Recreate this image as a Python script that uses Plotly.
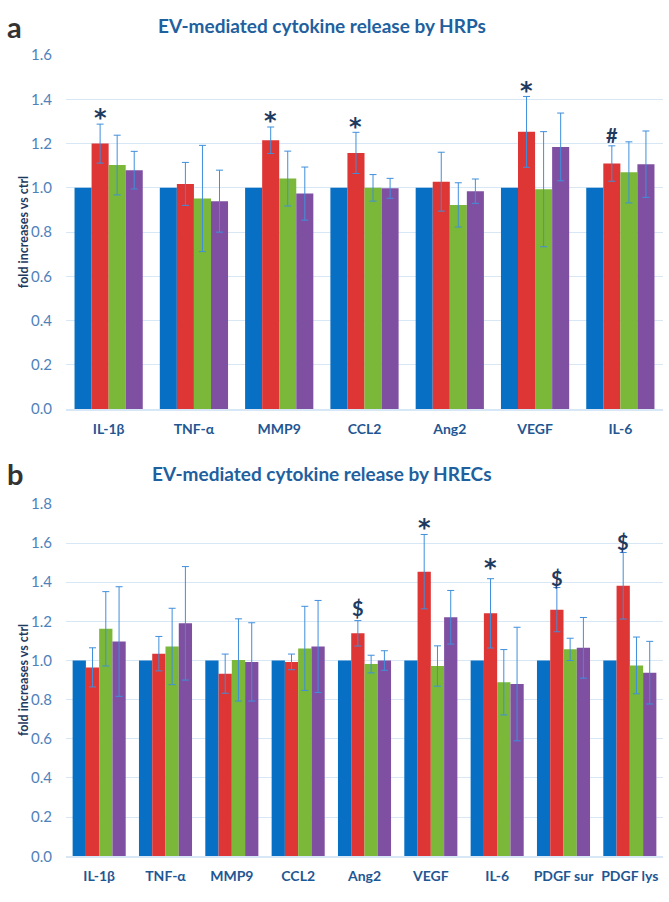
import plotly.graph_objects as go

# ---------------- data ----------------
cats_a = ["IL-1β", "TNF-α", "MMP9", "CCL2", "Ang2", "VEGF", "IL-6"]
ctrl_a = [1.0, 1.0, 1.0, 1.0, 1.0, 1.0, 1.0]
red_a = [1.20, 1.018, 1.215, 1.158, 1.028, 1.253, 1.110]
red_err_a = [0.088, 0.097, 0.060, 0.093, 0.133, 0.160, 0.080]
green_a = [1.103, 0.952, 1.042, 1.000, 0.923, 0.994, 1.070]
green_err_a = [0.135, 0.240, 0.124, 0.060, 0.100, 0.260, 0.138]
purple_a = [1.080, 0.940, 0.974, 0.998, 0.985, 1.185, 1.107]
purple_err_a = [0.085, 0.140, 0.120, 0.045, 0.055, 0.153, 0.150]
sig_cats_a = ["IL-1β", "MMP9", "CCL2", "VEGF", "IL-6"]
sig_syms_a = ["*", "*", "*", "*", "#"]
sig_y_a = [1.345, 1.330, 1.300, 1.465, 1.240]

cats_b = ["IL-1β", "TNF-α", "MMP9", "CCL2", "Ang2", "VEGF", "IL-6", "PDGF sur", "PDGF lys"]
ctrl_b = [1.0] * 9
red_b = [0.965, 1.035, 0.933, 0.993, 1.139, 1.454, 1.241, 1.260, 1.382]
red_err_b = [0.100, 0.088, 0.100, 0.040, 0.065, 0.190, 0.177, 0.113, 0.170]
green_b = [1.162, 1.072, 1.003, 1.062, 0.982, 0.972, 0.889, 1.057, 0.975]
green_err_b = [0.190, 0.195, 0.210, 0.215, 0.045, 0.103, 0.167, 0.057, 0.145]
purple_b = [1.097, 1.190, 0.993, 1.072, 1.000, 1.221, 0.880, 1.065, 0.938]
purple_err_b = [0.280, 0.290, 0.200, 0.235, 0.050, 0.137, 0.290, 0.155, 0.160]
sig_cats_b = ["Ang2", "VEGF", "IL-6", "PDGF sur", "PDGF lys"]
sig_syms_b = ["$", "*", "*", "$", "$"]
sig_y_b = [1.270, 1.710, 1.504, 1.424, 1.605]

titles = ["EV-mediated cytokine release by HRPs", "EV-mediated cytokine release by HRECs"]
panel_letters = ["a", "b"]
ytitle = "fold increases vs ctrl"

# ---------------- style ----------------
FONT = "Lato"
C_BLUE = "#0870c4"
C_RED = "#de3535"
C_GREEN = "#7bb739"
C_PURPLE = "#7f50a2"
C_ERR = "#3f8fdc"
C_TICK = "#4f82bb"
C_XLAB = "#1f5793"
C_TITLE = "#21609e"
C_DARK = "#1e3a5f"
C_GRID = "#d8e7f5"

W, H = 669, 902
fig = go.Figure()


def px_y(p):
    return 1 - p / H


panels = [
    dict(cats=cats_a, ctrl=ctrl_a, red=red_a, red_e=red_err_a, green=green_a, green_e=green_err_a,
         purple=purple_a, purple_e=purple_err_a, sc=sig_cats_a, ss=sig_syms_a, sy=sig_y_a,
         xa="x", ya="y", top=46.0, bot=407.3, yr=[0, 1.6], title_y=16, letter_y=17),
    dict(cats=cats_b, ctrl=ctrl_b, red=red_b, red_e=red_err_b, green=green_b, green_e=green_err_b,
         purple=purple_b, purple_e=purple_err_b, sc=sig_cats_b, ss=sig_syms_b, sy=sig_y_b,
         xa="x2", ya="y2", top=504.0, bot=863.5, yr=[0, 1.8], title_y=473, letter_y=473),
]

annotations = []
for i, p in enumerate(panels):
    def err(vals):
        return dict(type="data", array=vals, visible=True, color=C_ERR, thickness=1, width=3.5)

    fig.add_trace(go.Bar(x=p["cats"], y=p["ctrl"], marker_color=C_BLUE, marker_line_width=0,
                         xaxis=p["xa"], yaxis=p["ya"], showlegend=False))
    fig.add_trace(go.Bar(x=p["cats"], y=p["red"], marker_color=C_RED, marker_line_width=0,
                         error_y=err(p["red_e"]), xaxis=p["xa"], yaxis=p["ya"], showlegend=False))
    fig.add_trace(go.Bar(x=p["cats"], y=p["green"], marker_color=C_GREEN, marker_line_width=0,
                         error_y=err(p["green_e"]), xaxis=p["xa"], yaxis=p["ya"], showlegend=False))
    fig.add_trace(go.Bar(x=p["cats"], y=p["purple"], marker_color=C_PURPLE, marker_line_width=0,
                         error_y=err(p["purple_e"]), xaxis=p["xa"], yaxis=p["ya"], showlegend=False))

    for c, s, yv in zip(p["sc"], p["ss"], p["sy"]):
        idx = p["cats"].index(c)
        if s == "*":
            f = dict(family="DejaVu Sans", size=24, color=C_DARK, weight="bold")
            ys = -6
        else:
            f = dict(family=FONT, size=20, color=C_DARK, weight="bold")
            ys = 0
        annotations.append(dict(x=idx - 0.1, y=yv, xref=p["xa"], yref=p["ya"], text=s, showarrow=False,
                                yanchor="middle", yshift=ys, font=f))

    annotations.append(dict(x=322 / W, y=px_y(p["title_y"]), xref="paper", yref="paper", text=titles[i],
                            showarrow=False, xanchor="center", yanchor="middle",
                            font=dict(family=FONT, size=19, color=C_TITLE, weight="bold")))
    annotations.append(dict(x=5 / W, y=px_y(p["letter_y"]), xref="paper", yref="paper", text=panel_letters[i],
                            showarrow=False, xanchor="left", yanchor="middle",
                            font=dict(family=FONT, size=29, color="#333333", weight="bold")))
    annotations.append(dict(x=23 / W, y=px_y((p["top"] + p["bot"]) / 2), xref="paper", yref="paper",
                            text=ytitle, textangle=-90, showarrow=False, xanchor="center", yanchor="middle",
                            font=dict(family=FONT, size=12.5, color=C_DARK, weight="bold")))

xdom = [66 / W, 663 / W]
common_x = dict(showgrid=False, showline=True, linecolor=C_GRID, linewidth=1.5, ticks="",
                tickfont=dict(family=FONT, size=14, color=C_XLAB, weight="bold"), ticklabelstandoff=6,
                fixedrange=True)
common_y = dict(showgrid=True, gridcolor=C_GRID, gridwidth=1, zeroline=False, showline=False,
                dtick=0.2, tickformat=".1f", ticks="", ticklabelstandoff=13,
                tickfont=dict(family=FONT, size=15, color=C_TICK))

fig.update_layout(
    width=W, height=H, margin=dict(l=0, r=0, t=0, b=0),
    paper_bgcolor="white", plot_bgcolor="white",
    barmode="group", bargap=0.2, bargroupgap=0,
    xaxis=dict(domain=xdom, anchor="y", **common_x),
    yaxis=dict(domain=[px_y(panels[0]["bot"]), px_y(panels[0]["top"])], range=panels[0]["yr"],
               anchor="x", **common_y),
    xaxis2=dict(domain=xdom, anchor="y2", **common_x),
    yaxis2=dict(domain=[px_y(panels[1]["bot"]), px_y(panels[1]["top"])], range=panels[1]["yr"],
                anchor="x2", **common_y),
    annotations=annotations,
)

fig.write_html("out.html", config={"displayModeBar": False},
               post_script="document.body.style.margin='0';document.body.style.padding='0';")
